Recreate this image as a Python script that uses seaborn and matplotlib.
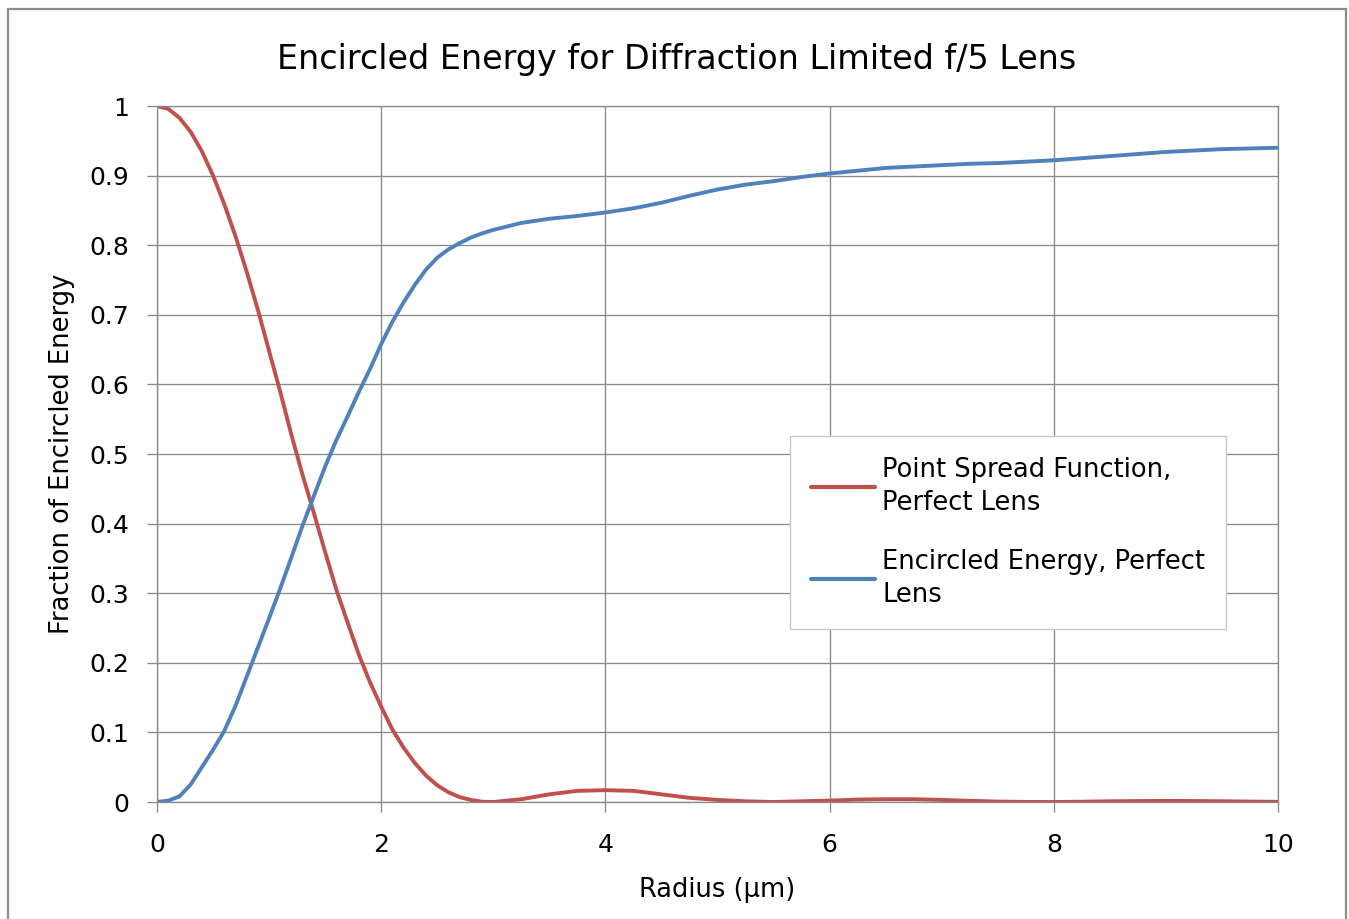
import pandas as pd
import seaborn as sns
import matplotlib.pyplot as plt
from matplotlib.patches import Rectangle

# values
radius = [0.0, 0.1, 0.2, 0.3, 0.4, 0.5, 0.6, 0.7, 0.8, 0.9, 1.0, 1.1, 1.2, 1.3, 1.4, 1.5,
          1.6, 1.7, 1.8, 1.9, 2.0, 2.1, 2.2, 2.3, 2.4, 2.5, 2.6, 2.7, 2.8, 2.9, 3.0,
          3.25, 3.5, 3.75, 4.0, 4.25, 4.5, 4.75, 5.0, 5.25, 5.5, 5.75, 6.0, 6.25, 6.5,
          6.75, 7.0, 7.25, 7.5, 7.75, 8.0, 8.25, 8.5, 8.75, 9.0, 9.25, 9.5, 9.75, 10.0]

psf = [1.0, 0.996, 0.983, 0.963, 0.935, 0.9, 0.859, 0.813, 0.762, 0.707, 0.648, 0.589,
       0.527, 0.469, 0.415, 0.359, 0.305, 0.258, 0.212, 0.172, 0.137, 0.104, 0.078, 0.056,
       0.038, 0.024, 0.014, 0.007, 0.003, 0.0004, 0.0,
       0.004, 0.011, 0.016, 0.017, 0.016, 0.011, 0.006, 0.003, 0.001, 0.0, 0.001, 0.002,
       0.0035, 0.004, 0.004, 0.003, 0.0017, 0.0006, 0.0001, 0.0, 0.0004, 0.001, 0.0014,
       0.0016, 0.0014, 0.0011, 0.0006, 0.0002]

encircled = [0.0, 0.002, 0.008, 0.025, 0.05, 0.075, 0.102, 0.138, 0.18, 0.222, 0.264,
             0.307, 0.352, 0.398, 0.44, 0.482, 0.52, 0.554, 0.589, 0.622, 0.658, 0.69,
             0.718, 0.743, 0.765, 0.782, 0.794, 0.803, 0.811, 0.817, 0.822,
             0.832, 0.838, 0.842, 0.847, 0.853, 0.861, 0.871, 0.88, 0.887, 0.892, 0.898,
             0.903, 0.907, 0.911, 0.913, 0.915, 0.917, 0.918, 0.92, 0.922, 0.925, 0.928,
             0.931, 0.934, 0.936, 0.938, 0.939, 0.94]

series_names = ["Point Spread Function,\nPerfect Lens", "Encircled Energy, Perfect\nLens"]
colors = ["#C0504D", "#4F81BD"]

df = pd.concat([
    pd.DataFrame({"Radius": radius, "Value": psf, "Series": series_names[0]}),
    pd.DataFrame({"Radius": radius, "Value": encircled, "Series": series_names[1]}),
])

sns.set_style("white")
plt.rcParams['font.family'] = ['DejaVu Sans']
plt.rcParams['text.color'] = 'black'
plt.rcParams['axes.labelcolor'] = 'black'

fig = plt.figure(figsize=(13.49, 9.19), dpi=100)
ax = fig.add_axes([157 / 1349, 1 - 802 / 919, (1278 - 157) / 1349, (802 - 106) / 919])

sns.lineplot(data=df, x="Radius", y="Value", hue="Series", palette=colors,
             linewidth=2.8, ax=ax, sort=False)

grid_c = "#8a8a8a"
ax.set_xlim(0, 10)
ax.set_ylim(0, 1)
ax.set_xticks([0, 2, 4, 6, 8, 10])
ax.set_yticks([0, 0.1, 0.2, 0.3, 0.4, 0.5, 0.6, 0.7, 0.8, 0.9, 1.0])
ax.set_yticklabels(["0", "0.1", "0.2", "0.3", "0.4", "0.5", "0.6", "0.7", "0.8", "0.9", "1"])
ax.grid(True, color=grid_c, linewidth=0.95)
for s in ax.spines.values():
    s.set_color(grid_c)
    s.set_linewidth(0.95)
ax.tick_params(axis="both", which="major", labelsize=18, color=grid_c, width=0.95,
               length=7, direction="out", bottom=True, left=True, labelcolor="black")
ax.tick_params(axis="x", pad=15)
ax.tick_params(axis="y", pad=13)

ax.set_xlabel("Radius (µm)", fontsize=18.5, labelpad=15)
ax.set_ylabel("Fraction of Encircled Energy", fontsize=18.5, labelpad=10)

fig.text(677 / 1349, 1 - 60 / 919, "Encircled Energy for Diffraction Limited f/5 Lens",
         ha="center", va="center", fontsize=24)

leg = ax.legend(loc="upper left", bbox_to_anchor=(790 / 1349, 1 - 436 / 919),
                bbox_transform=fig.transFigure, borderaxespad=0, fontsize=18.5,
                frameon=True, fancybox=False, framealpha=1, edgecolor="#c8c8c8",
                handlelength=2.5, handletextpad=0.3, labelspacing=1.3, borderpad=0.8,
                title=None)
leg.get_frame().set_linewidth(1.0)
for line in leg.get_lines():
    line.set_linewidth(3)
for t in leg.get_texts():
    t.set_linespacing(1.35)

# outer chart border
fig.patches.append(Rectangle((8 / 1349, -0.05), (1346 - 8) / 1349, 1.05 - 9 / 919,
                             transform=fig.transFigure, fill=False,
                             edgecolor="#8c8c8c", linewidth=1.6))

plt.savefig("out.png", dpi=100)
plt.close('all')
